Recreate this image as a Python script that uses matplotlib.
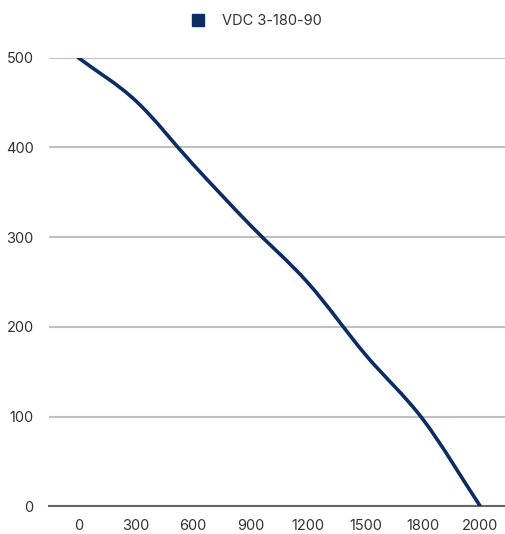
import matplotlib
matplotlib.use("Agg")
import matplotlib.pyplot as plt
from matplotlib.path import Path
from matplotlib.patches import PathPatch
from matplotlib.lines import Line2D
import numpy as np

categories = ["0", "300", "600", "900", "1200", "1500", "1800", "2000"]
values = [500, 452, 381, 313, 249, 169, 97, 0]
series_name = "VDC 3-180-90"
yticks = [0, 100, 200, 300, 400, 500]

color = "#0c2d63"
plt.rcParams['font.family'] = ['Inter', 'DejaVu Sans']

W, H = 505, 534
fig = plt.figure(figsize=(W / 100, H / 100), dpi=100)
left, right, bottom, top = 49, 505, 534 - 506.3, 534 - 57.7
ax = fig.add_axes([left / W, bottom / H, (right - left) / W, (top - bottom) / H])

xlim = (-0.51, 7.43)
ylim = (0, 500)
ax.set_xlim(*xlim)
ax.set_ylim(*ylim)

x = np.arange(len(categories), dtype=float)
y = np.array(values, dtype=float)

# monotone cubic bezier (as chart.js cubicInterpolationMode 'monotone')
n = len(x)
delta = np.diff(y) / np.diff(x)
m = np.zeros(n)
m[0] = delta[0]
m[-1] = delta[-1]
for i in range(1, n - 1):
    m[i] = 0 if delta[i - 1] * delta[i] <= 0 else (delta[i - 1] + delta[i]) / 2
for i in range(n - 1):
    if delta[i] == 0:
        m[i] = m[i + 1] = 0
        continue
    a, b = m[i] / delta[i], m[i + 1] / delta[i]
    s = a * a + b * b
    if s > 9:
        tau = 3 / np.sqrt(s)
        m[i] = tau * a * delta[i]
        m[i + 1] = tau * b * delta[i]
verts = [(x[0], y[0])]
codes = [Path.MOVETO]
for i in range(n - 1):
    dx = (x[i + 1] - x[i]) / 3
    verts += [(x[i] + dx, y[i] + dx * m[i]),
              (x[i + 1] - dx, y[i + 1] - dx * m[i + 1]),
              (x[i + 1], y[i + 1])]
    codes += [Path.CURVE4] * 3
patch = PathPatch(Path(verts, codes), facecolor="none", edgecolor=color,
                  lw=2.6, capstyle="round", joinstyle="round", zorder=3)
ax.add_patch(patch)

ax.set_xticks(x)
ax.set_xticklabels(categories)
ax.set_yticks(yticks)
ax.set_yticklabels([str(v) for v in yticks])
ax.tick_params(length=0, labelsize=10.5, colors="#333333")
ax.tick_params(axis="x", pad=9)
ax.tick_params(axis="y", pad=11)
for s in ["top", "right", "left"]:
    ax.spines[s].set_visible(False)
ax.spines["bottom"].set_color("#666666")
ax.spines["bottom"].set_linewidth(1.5)
ax.grid(axis="y", color="#c0c0c0", lw=1.5)
ax.set_axisbelow(True)

handle = Line2D([], [], marker="s", color=color, lw=0, markersize=9)
fig.legend([handle], [series_name], loc="center", bbox_to_anchor=(0.5, 1 - 21 / H),
           frameon=False, fontsize=10.5, handletextpad=0.7, labelcolor="#333333")

fig.savefig("out.png", dpi=100)
